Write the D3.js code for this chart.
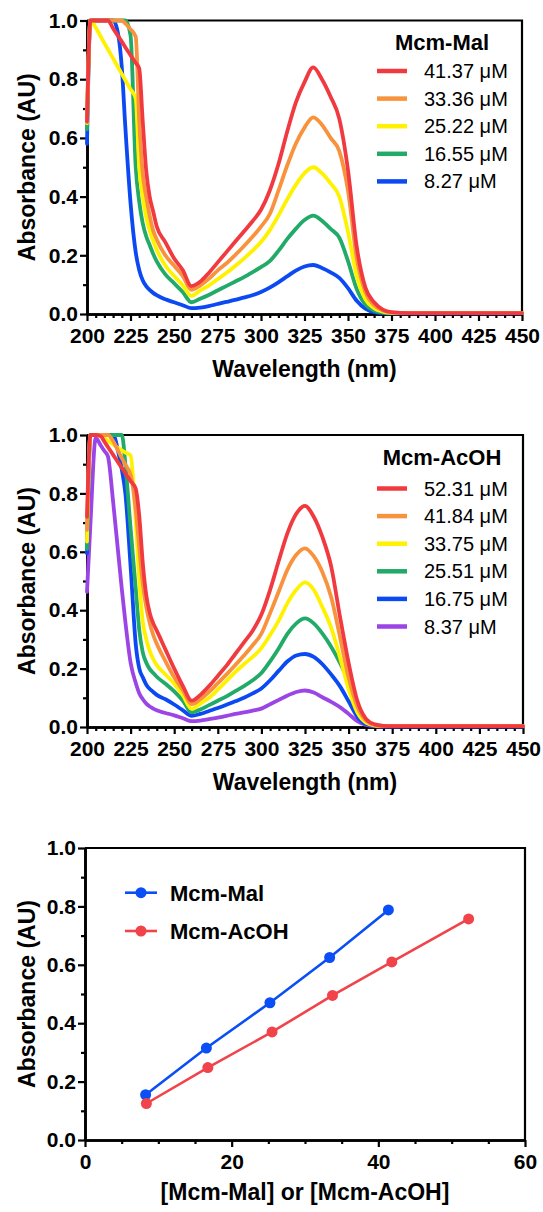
<!DOCTYPE html>
<html><head><meta charset="utf-8">
<script src="https://cdn.jsdelivr.net/npm/d3@7"></script>
<style>body{margin:0;background:#fff} svg{display:block} text{font-family:"Liberation Sans",Arial,sans-serif}</style>
</head><body><script>
// ---------- DATA ----------
const wavelengths = [200,202,205,208,210,212,215,218,220,222,225,228,230,232,234,236,238,240,245,250,255,260,265,270,275,280,285,290,295,300,305,310,315,320,325,330,335,340,345,350,355,360,365,370,375,380,390,400,425,450];

const malLabels = ["41.37 μM","33.36 μM","25.22 μM","16.55 μM","8.27 μM"];
const mal41 = [0.655,1,1,1,1,1,0.973,0.946,0.928,0.909, 0.882,0.855,0.837,0.66,0.49,0.40,0.35,0.30,0.245,0.19, 0.15,0.095,0.11,0.14,0.175,0.21,0.245,0.28,0.315,0.355, 0.42,0.51,0.62,0.72,0.79,0.84,0.80,0.74,0.665,0.49, 0.23,0.09,0.04,0.015,0.006,0.004,0.003,0.003,0.003,0.003];
const mal33 = [0.66,1,1,1,1,1,1,1,1,0.99, 0.97,0.945,0.66,0.48,0.40,0.335,0.285,0.255,0.20,0.165, 0.13,0.082,0.097,0.12,0.148,0.172,0.20,0.23,0.262,0.298, 0.34,0.42,0.505,0.58,0.635,0.67,0.645,0.60,0.555,0.42, 0.19,0.075,0.03,0.012,0.005,0.003,0.003,0.003,0.003,0.003];
const mal25 = [0.65,1,0.976,0.944,0.923,0.902,0.871,0.839,0.818,0.797, 0.766,0.734,0.50,0.40,0.33,0.285,0.25,0.22,0.165,0.13, 0.098,0.062,0.08,0.097,0.118,0.14,0.163,0.188,0.215,0.245, 0.285,0.335,0.39,0.44,0.48,0.50,0.48,0.445,0.40,0.28, 0.13,0.05,0.02,0.008,0.004,0.003,0.003,0.003,0.003,0.003];
const mal16 = [0.63,1,1,1,1,1,1,1,1,1, 0.95,0.50,0.383,0.31,0.265,0.235,0.205,0.18,0.135,0.105, 0.075,0.04,0.052,0.065,0.08,0.095,0.11,0.125,0.142,0.16, 0.18,0.215,0.255,0.29,0.32,0.335,0.318,0.29,0.26,0.18, 0.085,0.032,0.012,0.005,0.003,0.003,0.003,0.003,0.003,0.003];
const mal8 = [0.58,1,1,1,1,1,1,0.95,0.84,0.64, 0.38,0.21,0.15,0.115,0.095,0.082,0.072,0.064,0.05,0.04, 0.03,0.02,0.022,0.027,0.034,0.041,0.048,0.056,0.064,0.075, 0.09,0.108,0.128,0.148,0.162,0.167,0.157,0.142,0.123,0.088, 0.045,0.018,0.006,0.003,0.002,0.002,0.002,0.002,0.002,0.002];

const acohLabels = ["52.31 μM","41.84 μM","33.75 μM","25.51 μM","16.75 μM","8.37 μM"];
const acoh52 = [0.72,1,1,0.995,0.977,0.959,0.932,0.905,0.887,0.869, 0.842,0.815,0.72,0.56,0.45,0.39,0.355,0.33,0.265,0.20, 0.14,0.09,0.11,0.14,0.175,0.21,0.25,0.29,0.33,0.385, 0.47,0.57,0.665,0.73,0.757,0.72,0.65,0.55,0.38,0.22, 0.09,0.028,0.009,0.004,0.003,0.003,0.003,0.003,0.003,0.003];
const acoh41 = [0.675,1,1,1,1,1,0.979,0.944,0.921,0.898, 0.864,0.74,0.61,0.49,0.41,0.355,0.315,0.285,0.225,0.17, 0.125,0.078,0.095,0.12,0.15,0.18,0.212,0.245,0.28,0.32, 0.39,0.465,0.54,0.59,0.612,0.585,0.53,0.445,0.31,0.17, 0.07,0.022,0.007,0.003,0.003,0.003,0.003,0.003,0.003,0.003];
const acoh33 = [0.635,1,1,0.998,0.989,0.98,0.968,0.955,0.947,0.94, 0.93,0.70,0.50,0.36,0.30,0.26,0.232,0.212,0.18,0.148, 0.108,0.062,0.08,0.10,0.128,0.158,0.188,0.215,0.24,0.27, 0.315,0.365,0.425,0.47,0.495,0.47,0.41,0.34,0.24,0.13, 0.05,0.015,0.005,0.003,0.003,0.003,0.003,0.003,0.003,0.003];
const acoh25 = [0.61,1,1,1,1,1,1,1,1,0.90, 0.68,0.47,0.33,0.255,0.22,0.198,0.185,0.172,0.148,0.122, 0.09,0.05,0.06,0.075,0.09,0.105,0.123,0.14,0.16,0.185, 0.225,0.27,0.32,0.355,0.372,0.355,0.32,0.275,0.22,0.155, 0.075,0.02,0.006,0.003,0.003,0.003,0.003,0.003,0.003,0.003];
const acoh16 = [0.595,1,1,1,1,1,1,0.94,0.88,0.80, 0.55,0.28,0.20,0.17,0.145,0.13,0.12,0.11,0.095,0.077, 0.057,0.038,0.045,0.055,0.065,0.076,0.088,0.10,0.115,0.132, 0.16,0.193,0.225,0.245,0.25,0.24,0.215,0.18,0.14,0.088, 0.035,0.01,0.004,0.002,0.002,0.002,0.002,0.002,0.002,0.002];
const acoh8 = [0.463,0.70,0.99,0.963,0.945,0.927,0.77,0.59,0.47,0.36, 0.22,0.15,0.115,0.095,0.08,0.07,0.063,0.057,0.048,0.04, 0.03,0.02,0.022,0.027,0.032,0.038,0.045,0.05,0.056,0.063, 0.078,0.093,0.108,0.12,0.125,0.118,0.102,0.086,0.068,0.045, 0.02,0.007,0.003,0.002,0.002,0.002,0.002,0.002,0.002,0.002];

const malConc = [8.27,16.55,25.22,33.36,41.37];
const malAbs  = [0.155,0.315,0.47,0.625,0.788];
const acohConc = [8.37,16.75,25.51,33.75,41.84,52.31];
const acohAbs  = [0.125,0.248,0.37,0.495,0.61,0.757];

const wlTicks = [200,225,250,275,300,325,350,375,400,425,450];
const absTicks = [0,0.2,0.4,0.6,0.8,1.0];
const concTicks = [0,20,40,60];

const colors6 = ["#f03a40","#f8923d","#fff200","#21aa68","#0b49f2","#9b45e6"];

// ---------- DRAW ----------
const W = 543, H = 1212;
const FONT = '"Liberation Sans", Arial, sans-serif';
const svg = d3.select("body").append("svg").attr("width", W).attr("height", H);

function styleAxis(g, size, weight) {
  g.attr("font-family", FONT).attr("font-size", size).attr("font-weight", weight);
  g.select(".domain").attr("stroke", "#000").attr("stroke-width", 2.6);
  g.selectAll(".tick line").attr("stroke", "#000").attr("stroke-width", 2.2);
  g.selectAll(".tick text").attr("fill", "#000");
}

function drawFrame(x, y, xMinor, yMinor, xMajor, yMajor, xfmt) {
  const [x0, x1] = x.range();
  const [yb, yt] = y.range();
  svg.append("path").attr("d", `M${x0},${yt}H${x1}V${yb}`).attr("fill","none").attr("stroke","#000").attr("stroke-width",2.2);
  svg.append("g").attr("transform", `translate(0,${yb})`)
    .call(d3.axisBottom(x).tickValues(xMinor).tickSize(4).tickFormat("").tickSizeOuter(0))
    .call(g => styleAxis(g, 21, "bold"));
  svg.append("g").attr("transform", `translate(${x0},0)`)
    .call(d3.axisLeft(y).tickValues(yMinor).tickSize(4).tickFormat("").tickSizeOuter(0))
    .call(g => styleAxis(g, 21, "bold"));
  svg.append("g").attr("transform", `translate(0,${yb})`)
    .call(d3.axisBottom(x).tickValues(xMajor).tickSize(7).tickPadding(7).tickFormat(xfmt).tickSizeOuter(0))
    .call(g => styleAxis(g, 21, "bold"));
  svg.append("g").attr("transform", `translate(${x0},0)`)
    .call(d3.axisLeft(y).tickValues(yMajor).tickSize(7).tickPadding(2).tickFormat(d3.format(".1f")).tickSizeOuter(0))
    .call(g => styleAxis(g, 21, "bold"));
}

function axisTitles(x, y, xTitle, xBase) {
  const [x0, x1] = x.range();
  const [yb, yt] = y.range();
  svg.append("text").attr("x", (x0 + x1) / 2).attr("y", xBase).attr("text-anchor", "middle")
    .attr("font-size", 23).attr("font-weight", "bold").text(xTitle);
  svg.append("text").attr("transform", `translate(35,${(yb + yt) / 2}) rotate(-90)`)
    .attr("text-anchor", "middle").attr("font-size", 23).attr("font-weight", "bold").text("Absorbance (AU)");
}

function spectrumPanel(yTop, yBot, xRight, series, labels, title, legTop, titleBase) {
  const x = d3.scaleLinear().domain([200, 450]).range([87, xRight]);
  const y = d3.scaleLinear().domain([0, 1]).range([yBot, yTop]);
  drawFrame(x, y, d3.range(205, 450, 5).filter(v => v % 25 !== 0), [0.1,0.3,0.5,0.7,0.9], wlTicks, absTicks, d3.format("d"));
  const line = d3.line().curve(d3.curveMonotoneX).x((d, i) => x(wavelengths[i])).y(d => y(d));
  const colors = colors6.slice(0, series.length);
  for (let k = series.length - 1; k >= 0; k--) {
    svg.append("path").datum(series[k]).attr("d", line).attr("fill", "none")
      .attr("stroke", colors[k]).attr("stroke-width", 3.8).attr("stroke-linejoin", "round").attr("stroke-linecap", "round");
  }
  svg.append("text").attr("x", 442).attr("y", titleBase).attr("text-anchor", "middle")
    .attr("font-size", 22).attr("font-weight", "bold").text(title);
  labels.forEach((lab, k) => {
    const ly = legTop + k * 27.6;
    svg.append("line").attr("x1", 377).attr("x2", 407).attr("y1", ly).attr("y2", ly)
      .attr("stroke", colors[k]).attr("stroke-width", 4.5);
    svg.append("text").attr("x", 424).attr("y", ly + 7).attr("font-size", 20).text(lab);
  });
  axisTitles(x, y, "Wavelength (nm)", yBot + 63);
}

spectrumPanel(20.5, 314, 522, [mal41, mal33, mal25, mal16, mal8], malLabels, "Mcm-Mal", 71, 50);
spectrumPanel(435, 727, 523, [acoh52, acoh41, acoh33, acoh25, acoh16, acoh8], acohLabels, "Mcm-AcOH", 488.5, 465);

// ---------- bottom calibration plot ----------
{
  const x = d3.scaleLinear().domain([0, 60]).range([85, 525]);
  const y = d3.scaleLinear().domain([0, 1]).range([1140, 848]);
  drawFrame(x, y, d3.range(5, 60, 5).filter(v => v % 20 !== 0), [0.1,0.3,0.5,0.7,0.9], concTicks, absTicks, d3.format("d"));
  const sets = [
    {c: malConc, a: malAbs, col: "#0a4ef5", name: "Mcm-Mal"},
    {c: acohConc, a: acohAbs, col: "#f0434a", name: "Mcm-AcOH"}
  ];
  sets.forEach((s, k) => {
    const pts = s.c.map((c, i) => [x(c), y(s.a[i])]);
    svg.append("path").attr("d", d3.line()(pts)).attr("fill", "none").attr("stroke", s.col).attr("stroke-width", 2.6);
    svg.selectAll(null).data(pts).enter().append("circle")
      .attr("cx", d => d[0]).attr("cy", d => d[1]).attr("r", 5.5).attr("fill", s.col);
    const ly = 892.7 + k * 38.3;
    svg.append("line").attr("x1", 125).attr("x2", 157).attr("y1", ly).attr("y2", ly).attr("stroke", s.col).attr("stroke-width", 2.6);
    svg.append("circle").attr("cx", 141).attr("cy", ly).attr("r", 5.5).attr("fill", s.col);
    svg.append("text").attr("x", 170).attr("y", ly + 8).attr("font-size", 22).attr("font-weight", "bold").text(s.name);
  });
  axisTitles(x, y, "[Mcm-Mal] or [Mcm-AcOH]", 1200);
}
</script></body></html>
